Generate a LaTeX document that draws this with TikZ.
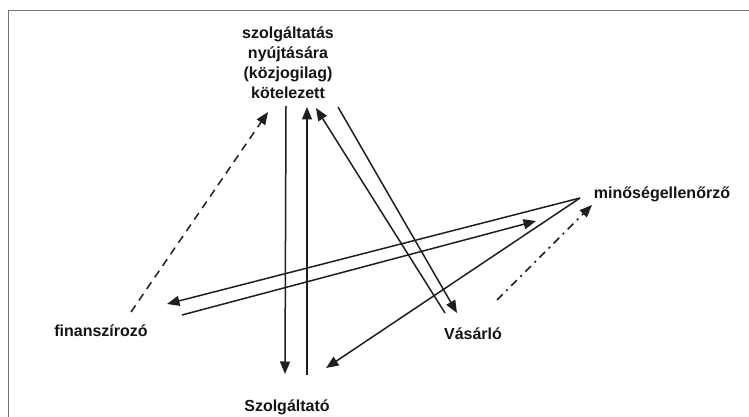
\documentclass[tikz,border=0pt]{standalone}
\usepackage{fontspec}
\setmainfont{Liberation Sans}
\usetikzlibrary{arrows.meta}
\begin{document}
\begin{tikzpicture}[x=1pt,y=-1pt,
  lbl/.style={inner sep=0pt,font=\bfseries\fontsize{16}{19.7}\selectfont,text=black!92},
  conn/.style={line width=1.5pt,black!88},
  arr/.style={conn,-{Triangle[length=12.5pt,width=10pt]}},
  dashln/.style={dash pattern=on 8pt off 6pt},
  dashdotln/.style={dash pattern=on 8pt off 5pt on 2pt off 5pt}]
\useasboundingbox (0,0) rectangle (749,417);
\fill[white] (0,0) rectangle (749,417);
% frame
\draw[line width=1pt,black!55] (749,11) -- (8,11) -- (8,417);
% labels
\node[lbl,align=center,anchor=north] (kot) at (288,27) {szolgáltatás\\nyújtására\\(közjogilag)\\kötelezett};
\node[lbl,anchor=base] (fin) at (101,336) {finanszírozó};
\node[lbl,anchor=base] (vas) at (473,339) {Vásárló};
\node[lbl,anchor=base] (min) at (662,198) {minőségellenőrző};
\node[lbl,anchor=base] (szo) at (287,411) {Szolgáltató};
% end points
\coordinate (d1a) at (131,312); \coordinate (d1b) at (268,112);
\coordinate (l2a) at (286,106); \coordinate (l2b) at (285,374);
\coordinate (l3a) at (307,375); \coordinate (l3b) at (307,107);
\coordinate (l4a) at (445,313); \coordinate (l4b) at (316,108);
\coordinate (l5a) at (338,107); \coordinate (l5b) at (457,313);
\coordinate (mq) at (580,198);
\coordinate (l6b) at (167,304);
\coordinate (l7a) at (182,315); \coordinate (l7b) at (536,221);
\coordinate (l8b) at (326,368);
\coordinate (d9a) at (497,300); \coordinate (d9b) at (592,205);
% connectors
\draw[arr,dashln] (d1a) -- (d1b);
\draw[arr] (l2a) -- (l2b);
\draw[arr] (l3a) -- (l3b);
\draw[arr] (l4a) -- (l4b);
\draw[arr] (l5a) -- (l5b);
\draw[arr] (mq) -- (l6b);
\draw[arr] (l7a) -- (l7b);
\draw[arr] (mq) -- (l8b);
\draw[arr,dashdotln] (d9a) -- (d9b);
\end{tikzpicture}
\end{document}
